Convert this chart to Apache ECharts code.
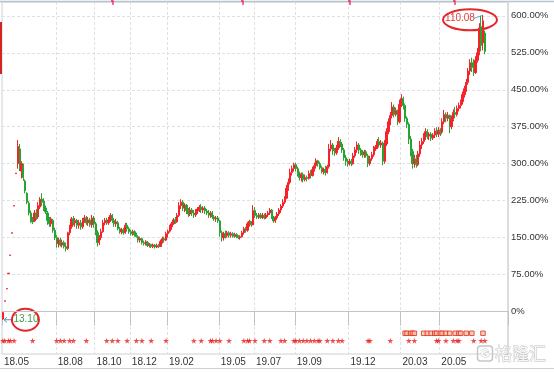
<!DOCTYPE html>
<html><head><meta charset="utf-8">
<script src="https://cdn.jsdelivr.net/npm/echarts@6/dist/echarts.min.js"></script>
<style>html,body{margin:0;padding:0;background:#fff}#c{width:554px;height:372px}</style>
</head><body><div id="c"></div>
<script>
// ---- data ----
const tickLabels = ['18.05','18.08','18.10','18.12','19.02','19.05','19.07','19.09','19.12','20.03','20.05'];
const tickIdx = [0,29,50,69,89,117,136,158,187,215,236];
const slotCount = 273;
const yTicks = [0,75,150,225,300,375,450,525,600];
const lowLabel = '13.10';
const highLabel = '110.08';
// [open, close, low, high] in % change
const candles = [
[-15,-2,-16.5,-1],[21,22,21,22],[46,47,46,47],[77,78,77,78],[114,115,114,115],[159,160,159,160],[214,215,214,215],[280,281,280,281],
[300,335,290,348],[330,295,285,340],[285,300,270,305],[295,272,265,300],[265,245,240,268],[240,222,218,242],[220,200,195,224],[200,185,180,205],
[186,182,178,192],[184,200,182,206],[200,190,186,208],[192,215,188,222],[212,228,208,232],[228,222,214,240],[224,210,204,230],[210,202,198,215],
[200,185,176,204],[186,178,172,192],[178,188,172,192],[185,165,160,188],[165,150,145,170],[150,138,130,155],[138,145,130,150],[145,135,132,150],
[135,140,130,146],[140,132,128,144],[132,128,122,140],[128,160,125,162],[160,172,155,176],[172,188,168,192],[188,180,175,194],[180,185,172,190],
[185,175,168,188],[175,180,168,186],[180,172,166,186],[172,185,168,190],[185,190,180,196],[190,180,176,194],[180,186,174,192],[186,176,172,190],
[176,190,170,196],[190,178,170,194],[178,160,155,182],[160,140,132,165],[140,150,135,155],[150,162,145,168],[162,180,160,186],[180,185,175,190],
[185,180,176,190],[180,186,176,192],[186,195,182,200],[195,185,180,198],[185,178,172,190],[178,182,172,188],[180,168,165,184],[168,162,158,172],
[162,166,157,170],[165,160,156,170],[160,175,158,180],[175,168,162,180],[168,162,158,172],[162,158,154,166],[158,162,154,166],[162,156,152,165],
[156,152,150,160],[152,145,140,155],[145,148,140,152],[148,140,136,150],[140,138,134,144],[138,142,134,145],[140,134,131,143],[134,136,130,139],
[136,132,129,138],[132,135,129,138],[135,131,128,137],[131,134,129,138],[134,132,129,137],[132,142,131,146],[142,148,138,152],[148,145,140,152],
[145,158,143,162],[158,163,150,166],[163,172,160,176],[172,178,166,182],[178,186,176,190],[186,182,178,192],[182,195,180,200],[195,215,192,222],
[215,222,208,228],[222,210,204,226],[210,216,202,220],[216,205,198,218],[205,198,192,210],[198,206,194,212],[206,200,194,210],[200,196,190,206],
[196,204,192,208],[204,208,198,212],[208,212,202,216],[212,206,200,218],[206,210,200,214],[210,204,198,214],[204,200,196,208],[200,196,190,206],
[196,200,190,204],[200,192,188,204],[192,188,184,196],[188,190,182,194],[190,184,180,194],[184,160,152,186],[160,150,142,164],[150,158,144,162],
[158,154,148,164],[154,160,150,164],[160,155,150,163],[155,158,150,162],[158,153,150,161],[153,156,150,160],[156,152,149,159],[152,150,147,155],
[150,152,146,155],[152,160,150,164],[160,168,156,172],[168,165,160,172],[165,178,162,182],[178,183,172,186],[183,176,172,184],[176,205,175,216],
[205,195,190,212],[195,192,188,200],[192,196,188,200],[196,191,188,200],[191,195,188,200],[195,190,187,199],[190,196,188,200],[196,200,192,204],
[200,206,196,210],[206,192,188,208],[192,184,180,194],[184,190,180,194],[190,198,186,202],[198,206,194,210],[206,214,200,218],[214,222,210,228],
[222,230,218,234],[230,250,228,257],[250,262,245,270],[262,282,258,290],[282,290,276,296],[290,298,284,302],[298,290,284,302],[290,280,274,294],
[280,272,266,284],[272,278,264,282],[278,268,262,282],[268,272,264,278],[272,270,264,276],[270,280,268,286],[280,276,270,287],[276,288,274,294],
[288,296,284,302],[296,306,290,311],[306,300,294,308],[300,292,288,304],[292,284,280,296],[284,288,278,292],[288,282,276,296],[282,294,280,298],
[294,330,290,340],[330,338,325,348],[338,326,318,342],[326,322,316,332],[322,332,318,338],[332,345,328,354],[345,340,334,350],[340,328,322,344],
[328,312,306,332],[312,305,296,318],[305,300,294,310],[300,305,296,310],[305,300,295,310],[300,316,298,322],[316,328,312,334],[328,338,322,345],
[338,328,320,342],[328,322,316,332],[322,318,312,328],[318,324,312,328],[324,316,312,328],[316,300,293,320],[300,310,296,316],[310,318,306,324],
[318,330,314,336],[330,334,326,338],[334,345,330,350],[345,338,333,354],[338,342,332,348],[342,305,297,345],[305,340,300,348],[340,365,336,372],
[365,385,360,392],[385,398,378,405],[398,415,392,425],[415,400,394,420],[400,408,396,414],[408,385,378,410],[385,420,382,430],[420,432,415,441],
[432,418,410,436],[418,392,385,422],[392,380,372,396],[380,350,340,384],[350,325,315,356],[325,300,290,330],[300,310,292,318],[310,298,292,318],
[298,320,295,326],[320,338,314,346],[338,345,330,352],[345,355,340,362],[355,365,348,372],[365,356,350,370],[356,360,348,364],[360,352,346,364],
[352,358,348,362],[358,366,352,372],[366,360,354,374],[360,368,354,374],[368,364,356,372],[364,385,360,392],[385,400,380,409],[400,392,384,404],
[392,398,386,405],[398,375,362,400],[375,390,370,398],[390,404,386,410],[404,400,392,415],[400,412,396,418],[412,418,406,424],[418,426,412,430],
[426,440,420,446],[440,452,434,458],[452,465,446,472],[465,488,460,494],[488,505,480,512],[505,495,486,515],[495,485,478,512],[485,510,482,518],
[510,525,505,535],[525,575,520,585],[578,540,528,600],[545,590,530,601],[565,528,522,570]
];
const starIdx = [0,1,3,4,6,16,29,31,33,36,38,45,56,59,62,67,72,75,80,88,103,107,112,113,115,117,122,130,132,133,136,141,144,150,152,157,158,160,162,164,166,168,170,171,175,178,181,183,197,198,209,219,222,234,235,239,243,245,246,254,258,260];
const reportIdx = [217,218,220,221,222,227,229,231,233,234,236,237,239,241,244,246,247,250,253,259];

// ---- chart ----
const STAR_LEVEL = -59, REPORT_LEVEL = -44;
const labelAt = {};
tickIdx.forEach((k, j) => { labelAt[k] = tickLabels[j]; });
const categories = Array.from({length: slotCount}, (_, i) => String(i));
const isTick = (i) => labelAt[i] !== undefined;
const FONT = '"Liberation Sans", Arial, sans-serif';
const starPath = 'path://M50,0 L61,35 L98,35 L68,57 L79,91 L50,70 L21,91 L32,57 L2,35 L39,35 Z';
const UP = '#f5222a', DOWN = '#27a334';

const chart = echarts.init(document.getElementById('c'), null, {renderer: 'canvas'});
chart.setOption({
  animation: false,
  backgroundColor: '#fff',
  grid: {left: 2, right: 46, top: 2, bottom: 18, show: true, borderColor: '#ccd2d8', borderWidth: 1},
  xAxis: {
    type: 'category', data: categories, boundaryGap: true,
    axisLine: {show: true, lineStyle: {color: '#c4c4c4'}},
    axisTick: {show: true, interval: (i) => isTick(i), length: 14, lineStyle: {color: '#c2c2c2'}},
    axisLabel: {show: true, interval: (i) => isTick(i), formatter: (v, i) => labelAt[i] || '',
      align: 'left', margin: 3, color: '#333', fontSize: 10, fontFamily: FONT, padding: [0,0,0,1]},
    splitLine: {show: true, interval: (i) => isTick(i) && i > 0, lineStyle: {color: '#e0e0e0', type: [3, 2]}}
  },
  yAxis: {
    type: 'value', position: 'right', min: -86, max: 628, scale: true,
    axisLine: {show: true, lineStyle: {color: '#d8d8d8', width: 1.5}},
    axisTick: {show: false, customValues: yTicks},
    axisLabel: {show: true, customValues: yTicks, margin: 3, color: '#333', fontSize: 9.5, fontFamily: FONT,
      formatter: (v) => v === 0 ? '0%' : v.toFixed(2) + '%'},
    splitLine: {show: true, lineStyle: {color: '#e0e0e0', type: [3, 2]}}
  },
  series: [
    {
      type: 'candlestick', data: candles, barWidth: 1.7, large: false,
      itemStyle: {color: UP, color0: DOWN, borderColor: UP, borderColor0: DOWN, borderWidth: 1, opacity: 1}
    },
    {
      type: 'scatter', data: starIdx.map(i => [i, STAR_LEVEL]), symbol: starPath, symbolSize: 6,
      itemStyle: {color: '#e2231f'}, z: 3
    },
    {
      type: 'scatter', data: reportIdx.map(i => [i, REPORT_LEVEL]), symbol: 'rect', symbolSize: [4.5, 4.5],
      itemStyle: {color: '#f6c2a8', borderColor: '#e0301e', borderWidth: 1}, z: 3
    }
  ]
});

// annotations anchored to the extreme candles
let hiI = 0, loI = 0;
candles.forEach((c, i) => { if (c[3] > candles[hiI][3]) hiI = i; if (c[2] < candles[loI][2]) loI = i; });
const pHi = chart.convertToPixel({gridIndex: 0}, [hiI, candles[hiI][3]]);
const pLo = chart.convertToPixel({gridIndex: 0}, [loI, candles[loI][2]]);
const annFont = '10px ' + FONT;
const topMarks = [113, 243, 350, 455];
chart.setOption({
  graphic: [
    {type: 'line', shape: {x1: 0, y1: 1.5, x2: 554, y2: 1.5}, style: {stroke: '#b9c3cd', lineWidth: 1.5}},
    {type: 'line', shape: {x1: 0, y1: 368.5, x2: 554, y2: 368.5}, style: {stroke: '#d0d0d0', lineWidth: 1}},
    {type: 'rect', shape: {x: 0, y: 22, width: 2, height: 52}, style: {fill: '#d42424'}},
    ...topMarks.map(x => ({type: 'polyline', shape: {points: [[x - 2, 1], [x, 1], [x, 5]]}, style: {stroke: '#f0245a', fill: 'none', lineWidth: 1.3}})),
    // high annotation
    {type: 'line', shape: {x1: pHi[0] - 9, y1: pHi[1] + 3, x2: pHi[0], y2: pHi[1]}, style: {stroke: '#5ab0d6', lineWidth: 1}},
    {type: 'text', x: pHi[0] - 23, y: pHi[1] + 3, style: {text: highLabel, font: annFont, fill: '#e0403c', align: 'center', verticalAlign: 'middle'}},
    {type: 'ellipse', shape: {cx: pHi[0] - 13, cy: pHi[1] + 4.5, rx: 27, ry: 10.5}, style: {fill: 'none', stroke: '#e3262a', lineWidth: 2}},
    // low annotation
    {type: 'line', shape: {x1: pLo[0] + 1, y1: pLo[1], x2: pLo[0] + 10, y2: pLo[1]}, style: {stroke: '#4c94c8', lineWidth: 1}},
    {type: 'polyline', shape: {points: [[pLo[0] + 4, pLo[1] - 2.5], [pLo[0] + 1, pLo[1]], [pLo[0] + 4, pLo[1] + 2.5]]}, style: {stroke: '#4c94c8', fill: 'none', lineWidth: 1}},
    {type: 'text', x: pLo[0] + 23, y: pLo[1], style: {text: lowLabel, font: annFont, fill: '#3f9f42', align: 'center', verticalAlign: 'middle'}},
    {type: 'ellipse', shape: {cx: pLo[0] + 22.5, cy: pLo[1], rx: 13.5, ry: 11}, style: {fill: 'none', stroke: '#e3262a', lineWidth: 2}},
    // watermark
    {type: 'rect', shape: {x: 477.5, y: 346, width: 15, height: 15, r: 3}, style: {fill: 'none', stroke: '#c6c6c6', lineWidth: 1.5}},
    {type: 'text', x: 485, y: 353.5, style: {text: 'G', font: 'bold 11px ' + FONT, fill: '#fff', stroke: '#c6c6c6', lineWidth: 1, align: 'center', verticalAlign: 'middle'}},
    {type: 'text', x: 495, y: 354, style: {text: '格隆汇', font: '17px "Noto Sans CJK SC"', fill: '#f6f6f6', stroke: '#bdbdbd', lineWidth: 0.8, align: 'left', verticalAlign: 'middle'}}
  ]
});
</script></body></html>
